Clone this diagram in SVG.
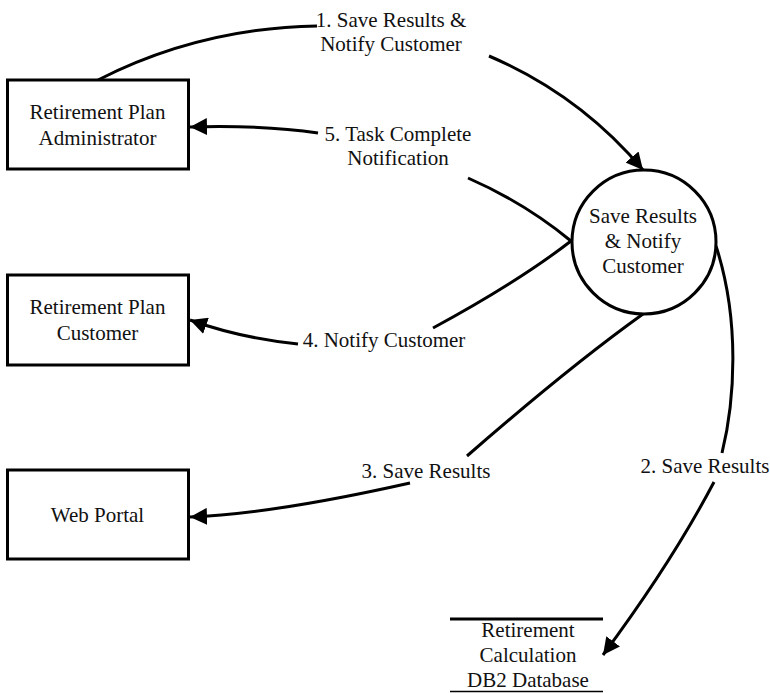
<svg xmlns="http://www.w3.org/2000/svg" width="770" height="693" viewBox="0 0 770 693" font-family="Liberation Serif, Times New Roman, Tinos, DejaVu Serif, serif">
<style>
text{font-size:21px;fill:#111;text-anchor:middle}
.box{fill:#fff;stroke:#000;stroke-width:3}
.flow{fill:none;stroke:#000;stroke-width:3}
</style>
<defs>
<marker id="arr" markerUnits="userSpaceOnUse" markerWidth="18" markerHeight="17" refX="17" refY="8.5" orient="auto">
<path d="M0,0 L17,8.5 L0,17 z" fill="#000"/>
</marker>
</defs>
<rect width="770" height="693" fill="#fff"/>
<g id="connectors">
<path class="flow" d="M98,80 Q200,28 317,26"/>
<path class="flow" d="M489,56 Q580,95 643,170" marker-end="url(#arr)"/>
<path class="flow" d="M468,178 Q525,203 571,241"/>
<path class="flow" d="M318,133 Q265,125 190,127" marker-end="url(#arr)"/>
<path class="flow" d="M571,241 Q518,282 433,328"/>
<path class="flow" d="M298,344 Q240,338 190,320" marker-end="url(#arr)"/>
<path class="flow" d="M643,314 Q569,367 467,456"/>
<path class="flow" d="M410,483 Q272,514 190,517" marker-end="url(#arr)"/>
<path class="flow" d="M716,246 C740,320 735,400 722,453"/>
<path class="flow" d="M714,482 Q672,562 603,655" marker-end="url(#arr)"/>
<text x="391" y="27">1. Save Results &amp;</text>
<text x="391" y="51">Notify Customer</text>
<text x="398" y="141">5. Task Complete</text>
<text x="398" y="165">Notification</text>
<text x="384" y="347">4. Notify Customer</text>
<text x="426" y="478">3. Save Results</text>
<text x="705" y="473">2. Save Results</text>
</g>
<g id="admin">
<rect class="box" x="7.5" y="80" width="181" height="89"/>
<text x="97.5" y="119">Retirement Plan</text>
<text x="97.5" y="145">Administrator</text>
</g>
<g id="customer">
<rect class="box" x="7.5" y="275" width="181" height="90"/>
<text x="97.5" y="314">Retirement Plan</text>
<text x="97.5" y="340">Customer</text>
</g>
<g id="webportal">
<rect class="box" x="7.5" y="470" width="181" height="89"/>
<text x="97.5" y="522">Web Portal</text>
</g>
<g id="process">
<circle cx="644" cy="242" r="72" fill="#fff" stroke="#000" stroke-width="3"/>
<text x="643" y="223">Save Results</text>
<text x="643" y="248">&amp; Notify</text>
<text x="643" y="273">Customer</text>
</g>
<g id="datastore">
<line x1="450" y1="619" x2="603" y2="619" stroke="#000" stroke-width="3"/>
<line x1="450" y1="691.5" x2="603" y2="691.5" stroke="#000" stroke-width="1.5"/>
<text x="528" y="637">Retirement</text>
<text x="528" y="662">Calculation</text>
<text x="528" y="687">DB2 Database</text>
</g>
</svg>
